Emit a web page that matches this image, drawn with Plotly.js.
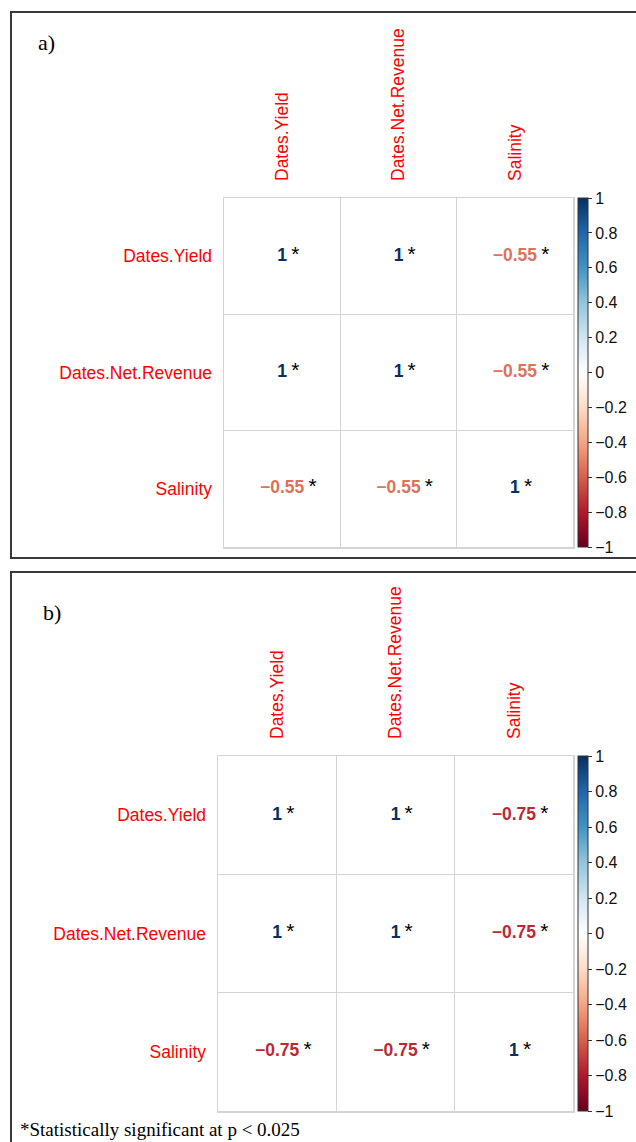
<!DOCTYPE html>
<html>
<head>
<meta charset="utf-8">
<script src="https://cdn.plot.ly/plotly-3.0.1.min.js"></script>
<style>
  html, body { margin: 0; padding: 0; background: #ffffff; }
  #chart { width: 636px; height: 1142px; }
</style>
</head>
<body>
<div id="chart"></div>
<script>
// Variables of the correlation matrices (rows top to bottom, columns left to right)
const variables = ['Dates.Yield', 'Dates.Net.Revenue', 'Salinity'];

// a) correlation coefficients
const corrA = [
  [1, 1, -0.55],
  [1, 1, -0.55],
  [-0.55, -0.55, 1]
];
// b) correlation coefficients
const corrB = [
  [1, 1, -0.75],
  [1, 1, -0.75],
  [-0.75, -0.75, 1]
];
// significance flags (p < 0.025)
const sigA = [
  [true, true, true],
  [true, true, true],
  [true, true, true]
];
const sigB = [
  [true, true, true],
  [true, true, true],
  [true, true, true]
];

const panelLabels = ['a)', 'b)'];
const footnote = '*Statistically significant at p < 0.025';

// Red-blue diverging palette used for the coefficients and the colour legend
const rdbuColors = ['#67001F', '#B2182B', '#D6604D', '#F4A582', '#FDDBC7', '#FFFFFF',
                    '#D1E5F0', '#92C5DE', '#4393C3', '#2166AC', '#053061'];
const colorscale = rdbuColors.map((c, i) => [i / (rdbuColors.length - 1), c]);

function hexToRgb(h) {
  return [parseInt(h.slice(1, 3), 16), parseInt(h.slice(3, 5), 16), parseInt(h.slice(5, 7), 16)];
}
// colour of a coefficient in [-1, 1] on the palette
function valueColor(v) {
  const t = (v + 1) / 2 * (rdbuColors.length - 1);
  const i = Math.min(Math.floor(t), rdbuColors.length - 2);
  const f = t - i;
  const a = hexToRgb(rdbuColors[i]), b = hexToRgb(rdbuColors[i + 1]);
  const c = a.map((x, k) => Math.round(x + (b[k] - x) * f));
  return 'rgb(' + c.join(',') + ')';
}
function fmt(v) {
  return v < 0 ? '\u2212' + Math.abs(v) : String(v);
}

const W = 636, H = 1142;
const px = x => x / W;          // pixel column -> paper x
const py = y => 1 - y / H;      // pixel row -> paper y

const labelFont = { family: 'Liberation Sans, Arial, sans-serif', size: 17.5, color: '#ff0000' };
const gridColor = '#d4d4d4';

function cellTrace(corr, sig, xa, ya, box) {
  const xs = [], ys = [], vals = [], texts = [];
  corr.forEach((row, i) => row.forEach((v, j) => {
    xs.push(j); ys.push(i); vals.push(v);
    const star = sig[i][j] ? '<span style="font-size:21px">\u2009*</span>' : '';
    const ghost = sig[i][j] ? '<span style="font-size:21px;color:rgba(0,0,0,0)">\u2009*</span>' : '';
    // an invisible copy of the star in front keeps the number itself centred in the cell
    texts.push(ghost + '<b><span style="color:' + valueColor(v) + '">' + fmt(v) + '</span></b>' + star);
  }));
  return {
    type: 'scatter', mode: 'markers+text',
    x: xs, y: ys, xaxis: xa, yaxis: ya,
    text: texts, textposition: 'middle center',
    textfont: { family: 'Liberation Sans, Arial, sans-serif', size: 17.5, color: '#000000' },
    hoverinfo: 'skip', showlegend: false,
    marker: {
      size: 1, opacity: 0,
      color: vals, colorscale: colorscale, cmin: -1, cmax: 1, showscale: true,
      colorbar: {
        x: px(box.cbx), xanchor: 'left', xref: 'paper', xpad: 0,
        y: py(box.top), yanchor: 'top', yref: 'paper', ypad: 0,
        len: box.bottom - box.top, lenmode: 'pixels',
        thickness: 10, thicknessmode: 'pixels',
        outlinecolor: '#333333', outlinewidth: 1,
        ticks: 'outside', ticklen: 4, tickwidth: 1, tickcolor: '#333333',
        tickmode: 'linear', tick0: -1, dtick: 0.2,
        tickfont: { family: 'Liberation Sans, Arial, sans-serif', size: 16, color: '#111111' }
      }
    }
  };
}

function xAxis(box, anchor) {
  return {
    domain: [px(box.left), px(box.right)], anchor: anchor,
    range: [-0.5, 2.5], side: 'top',
    tickmode: 'array', tickvals: [0, 1, 2], ticktext: variables,
    tickangle: -90, tickfont: labelFont, ticks: '', ticklabelstandoff: 12,
    showgrid: false, zeroline: false,
    showline: true, mirror: true, linecolor: gridColor, linewidth: 1.5,
    minor: { tickmode: 'array', tickvals: [0.5, 1.5], showgrid: true, gridcolor: gridColor, gridwidth: 1.5, ticks: '' },
    fixedrange: true
  };
}
function yAxis(box, anchor) {
  return {
    domain: [py(box.bottom), py(box.top)], anchor: anchor,
    range: [2.5, -0.5],
    tickmode: 'array', tickvals: [0, 1, 2], ticktext: variables,
    tickfont: labelFont, ticks: '', ticklabelstandoff: 7,
    showgrid: false, zeroline: false,
    showline: true, mirror: true, linecolor: gridColor, linewidth: 1.5,
    minor: { tickmode: 'array', tickvals: [0.5, 1.5], showgrid: true, gridcolor: gridColor, gridwidth: 1.5, ticks: '' },
    fixedrange: true
  };
}

// plot boxes in pixels
const boxA = { left: 224, right: 573, top: 198, bottom: 547, cbx: 578 };
const boxB = { left: 218, right: 573, top: 756, bottom: 1111, cbx: 578 };

const data = [
  cellTrace(corrA, sigA, 'x', 'y', boxA),
  cellTrace(corrB, sigB, 'x2', 'y2', boxB)
];

const frameLine = { color: '#3a3a3a', width: 2 };
const layout = {
  width: W, height: H,
  margin: { l: 0, r: 0, t: 0, b: 0 },
  paper_bgcolor: '#ffffff', plot_bgcolor: '#ffffff',
  xaxis: xAxis(boxA, 'y'), yaxis: yAxis(boxA, 'x'),
  xaxis2: xAxis(boxB, 'y2'), yaxis2: yAxis(boxB, 'x2'),
  shapes: [
    { type: 'rect', xref: 'paper', yref: 'paper', x0: px(11), x1: 1.1, y0: py(558), y1: py(12), line: frameLine },
    { type: 'rect', xref: 'paper', yref: 'paper', x0: px(11), x1: 1.1, y0: -0.1, y1: py(572), line: frameLine }
  ],
  annotations: [
    { text: panelLabels[0], xref: 'paper', yref: 'paper', x: px(36), y: py(43), xanchor: 'left', yanchor: 'middle',
      showarrow: false, font: { family: 'Liberation Serif, Times New Roman, serif', size: 22, color: '#000' } },
    { text: panelLabels[1], xref: 'paper', yref: 'paper', x: px(41), y: py(612), xanchor: 'left', yanchor: 'middle',
      showarrow: false, font: { family: 'Liberation Serif, Times New Roman, serif', size: 22, color: '#000' } },
    { text: footnote, xref: 'paper', yref: 'paper', x: px(18), y: py(1129), xanchor: 'left', yanchor: 'middle',
      showarrow: false, font: { family: 'Liberation Serif, Times New Roman, serif', size: 19, color: '#000' } }
  ]
};

Plotly.newPlot('chart', data, layout, { staticPlot: true, displayModeBar: false });
</script>
</body>
</html>
